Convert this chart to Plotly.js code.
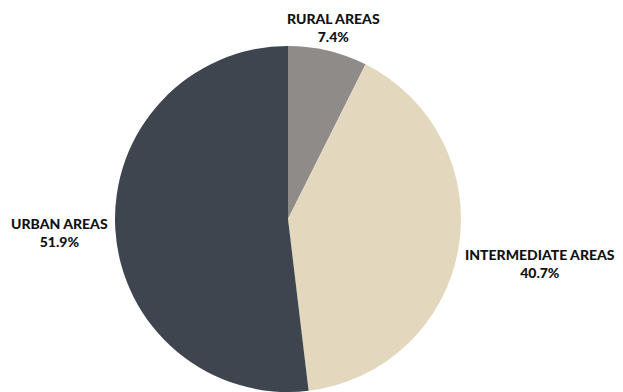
<!DOCTYPE html>
<html>
<head>
<meta charset="utf-8">
<script src="https://cdn.plot.ly/plotly-3.0.1.min.js"></script>
<style>html,body{margin:0;padding:0;background:#fff;}#chart{width:623px;height:392px;}</style>
</head>
<body>
<div id="chart"></div>
<script>
var categories = ["RURAL AREAS", "INTERMEDIATE AREAS", "URBAN AREAS"];
var shares = [7.4, 40.7, 51.9];
var colors = ["#8f8b88", "#e3d8bd", "#3e454e"];

var W = 623, H = 392, cx = 288, cy = 219, r = 173;
var FONT = "Lato, 'Noto Sans', sans-serif", FS = 14;

var data = [{
  type: "pie",
  labels: categories,
  values: shares,
  sort: false,
  direction: "clockwise",
  rotation: 0,
  marker: {colors: colors, line: {width: 0}},
  textinfo: "none",
  hoverinfo: "label+percent",
  domain: {x: [(cx - r) / W, (cx + r) / W], y: [(H - cy - r) / H, (H - cy + r) / H]}
}];

// label placement: box centre on slice mid-angle, nearest box edge just outside the pie
var ctx = document.createElement("canvas").getContext("2d");
ctx.font = "900 " + FS + "px Lato";
var total = shares.reduce(function (a, b) { return a + b; }, 0);
var annotations = [];
var cum = 0;
shares.forEach(function (v, i) {
  var mid = (cum + v / 2) / total * 2 * Math.PI;
  cum += v;
  var ux = Math.sin(mid), uy = -Math.cos(mid);
  var pct = (v / total * 100).toFixed(1) + "%";
  var hw = Math.max(ctx.measureText(categories[i]).width, ctx.measureText(pct).width) / 2;
  var hh = 16;
  var d = Math.min(Math.abs(ux) > 1e-6 ? hw / Math.abs(ux) : 1e9, Math.abs(uy) > 1e-6 ? hh / Math.abs(uy) : 1e9);
  var R = 180 + d;
  var px = cx + R * ux, py = cy + R * uy;
  annotations.push({
    xref: "paper", yref: "paper",
    x: px / W, y: 1 - py / H,
    xanchor: "center", yanchor: "middle",
    showarrow: false, align: "center",
    text: categories[i] + "<br>" + pct,
    font: {family: FONT, size: FS, color: "#111111", weight: 900}
  });
});

var layout = {
  width: W, height: H,
  margin: {l: 0, r: 0, t: 0, b: 0},
  showlegend: false,
  paper_bgcolor: "#ffffff",
  annotations: annotations
};
Plotly.newPlot("chart", data, layout, {displayModeBar: false, staticPlot: true});
</script>
</body>
</html>
